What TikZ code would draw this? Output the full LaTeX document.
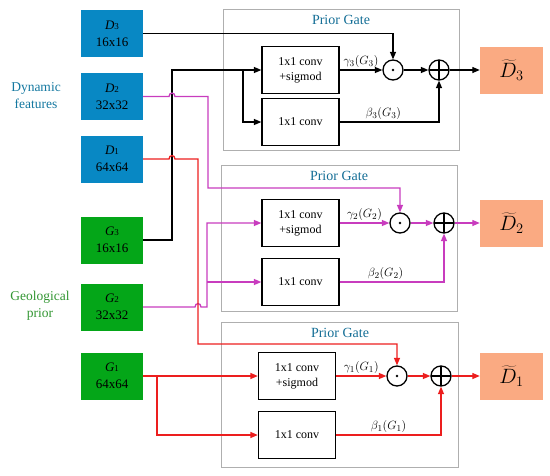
\documentclass[tikz,border=0pt]{standalone}
\usepackage{fontspec}
\setmainfont{Liberation Serif}
\usetikzlibrary{arrows.meta}
\definecolor{dblue}{RGB}{8,136,196}
\definecolor{ggreen}{RGB}{4,166,24}
\definecolor{salmon}{RGB}{250,170,130}
\definecolor{mag}{RGB}{200,60,190}
\definecolor{wred}{RGB}{236,30,30}
\definecolor{dyntext}{RGB}{20,120,160}
\definecolor{geotext}{RGB}{50,150,50}
\definecolor{gatetext}{RGB}{20,110,150}
\definecolor{gateline}{RGB}{175,175,175}
\begin{document}
\begin{tikzpicture}[x=1pt,y=-1pt,
  fbox/.style={minimum width=62pt, minimum height=47pt, inner sep=0pt, align=center,
    font=\fontsize{13}{17}\selectfont},
  dbox/.style={fbox, fill=dblue},
  gbox/.style={fbox, fill=ggreen},
  obox/.style={fill=salmon, minimum width=63pt, minimum height=47pt, inner sep=0pt,
    font=\fontsize{20}{22}\selectfont},
  gate/.style={draw=gateline, line width=0.9pt, minimum width=236pt, minimum height=141pt, inner sep=0pt},
  gtitle/.style={text=gatetext, font=\fontsize{14}{16}\selectfont, inner sep=0pt},
  cbox/.style={draw, line width=1.3pt, minimum width=77pt, minimum height=47pt, inner sep=0pt,
    align=center, font=\fontsize{12}{15}\selectfont},
  opdot/.style={circle, draw, line width=1.3pt, minimum size=20pt, inner sep=0pt,
    path picture={\fill (path picture bounding box.center) circle (1.4pt);}},
  opplus/.style={circle, draw, line width=1.3pt, minimum size=20pt, inner sep=0pt,
    path picture={\draw[line width=1.3pt] (path picture bounding box.north) -- (path picture bounding box.south)
      (path picture bounding box.west) -- (path picture bounding box.east);}},
  wire/.style={line width=1.3pt, -{Triangle[length=7.5pt,width=6pt]}},
  lbl/.style={font=\fontsize{12.5}{14}\selectfont, inner sep=1.5pt}
]
\useasboundingbox (0,0) rectangle (550,475);

% side labels
\node[text=dyntext, align=center, font=\fontsize{13.5}{17}\selectfont] (dynl) at (36,96) {Dynamic\\features};
\node[text=geotext, align=center, font=\fontsize{13.5}{17}\selectfont] (geol) at (40,306) {Geological\\prior};

% input boxes
\node[dbox] (D3) at (112,33.5) {{\itshape D}{\small 3}\\16x16};
\node[dbox] (D2) at (112,96.5) {{\itshape D}{\small 2}\\32x32};
\node[dbox] (D1) at (112,159) {{\itshape D}{\small 1}\\64x64};
\node[gbox] (G3) at (112,240) {{\itshape G}{\small 3}\\16x16};
\node[gbox] (G2) at (112,307) {{\itshape G}{\small 2}\\32x32};
\node[gbox] (G1) at (112,376) {{\itshape G}{\small 1}\\64x64};

% gate frames
\node[gate] (gate3) at (341,79.5) {};
\node[gate, minimum height=146pt] (gate2) at (339,238) {};
\node[gate, minimum width=237pt, minimum height=145pt] (gate1) at (339.5,394.5) {};
\node[gtitle] (t3) at (341,20) {Prior Gate};
\node[gtitle] (t2) at (339,176) {Prior Gate};
\node[gtitle] (t1) at (340,333) {Prior Gate};

% gate 3 (top)
\node[cbox] (S3) at (300.5,70) {1x1 conv\\+sigmod};
\node[cbox] (C3) at (300.5,122) {1x1 conv};
\node[opdot] (od3) at (393,70) {};
\node[opplus] (op3) at (439,70) {};
\node[obox] (O3) at (511.5,70) {$\widetilde{D}_3$};

% gate 2
\node[cbox] (S2) at (300.5,223) {1x1 conv\\+sigmod};
\node[cbox] (C2) at (300.5,282) {1x1 conv};
\node[opdot] (od2) at (400,223) {};
\node[opplus] (op2) at (444,223) {};
\node[obox] (O2) at (511.5,223) {$\widetilde{D}_2$};

% gate 1
\node[cbox] (S1) at (297,376) {1x1 conv\\+sigmod};
\node[cbox] (C1) at (297,435) {1x1 conv};
\node[opdot] (od1) at (397,376) {};
\node[opplus] (op1) at (441,376) {};
\node[obox] (O1) at (511.5,376) {$\widetilde{D}_1$};

% branch points
\coordinate (b3) at (243,70);
\coordinate (b2) at (207,282);
\coordinate (b1) at (157,376);

% black wires
\draw[wire] (D3.east) -| (od3.north);
\draw[wire] (G3.east) -- (172,240) |- (S3.west);
\draw[wire] (b3) |- (C3.west);
\draw[wire] (S3.east) -- node[lbl, above]{$\gamma_3(G_3)$} (od3.west);
\draw[wire] (od3.east) -- (op3.west);
\draw[wire] (C3.east) -| node[lbl, above, pos=0.22]{$\beta_3(G_3)$} (op3.south);
\draw[wire] (op3.east) -- (O3.west);

% magenta wires
\begin{scope}[mag]
\draw[wire] (D2.east) -- (169,96.5) .. controls (169,92) and (175,92) .. (175,96.5)
  -- (208,96.5) -- (208,188) -| (od2.north);
\draw[wire] (G2.east) -- (195,307) .. controls (195,302.5) and (201,302.5) .. (201,307)
  -- (207,307) |- (S2.west);
\draw[wire] (b2) -- (C2.west);
\draw[wire] (S2.east) -- node[lbl, above, text=black]{$\gamma_2(G_2)$} (od2.west);
\draw[wire] (od2.east) -- (op2.west);
\draw[wire] (C2.east) -| node[lbl, above, pos=0.22, text=black]{$\beta_2(G_2)$} (op2.south);
\draw[wire] (op2.east) -- (O2.west);
\end{scope}

% red wires
\begin{scope}[wred]
\draw[wire] (D1.east) -- (169,159) .. controls (169,154.5) and (175,154.5) .. (175,159)
  -- (198,159) -- (198,344) -| (od1.north);
\draw[wire] (G1.east) -- (S1.west);
\draw[wire] (b1) |- (C1.west);
\draw[wire] (S1.east) -- node[lbl, above, text=black]{$\gamma_1(G_1)$} (od1.west);
\draw[wire] (od1.east) -- (op1.west);
\draw[wire] (C1.east) -| node[lbl, above, pos=0.25, text=black]{$\beta_1(G_1)$} (op1.south);
\draw[wire] (op1.east) -- (O1.west);
\end{scope}
\end{tikzpicture}
\end{document}
